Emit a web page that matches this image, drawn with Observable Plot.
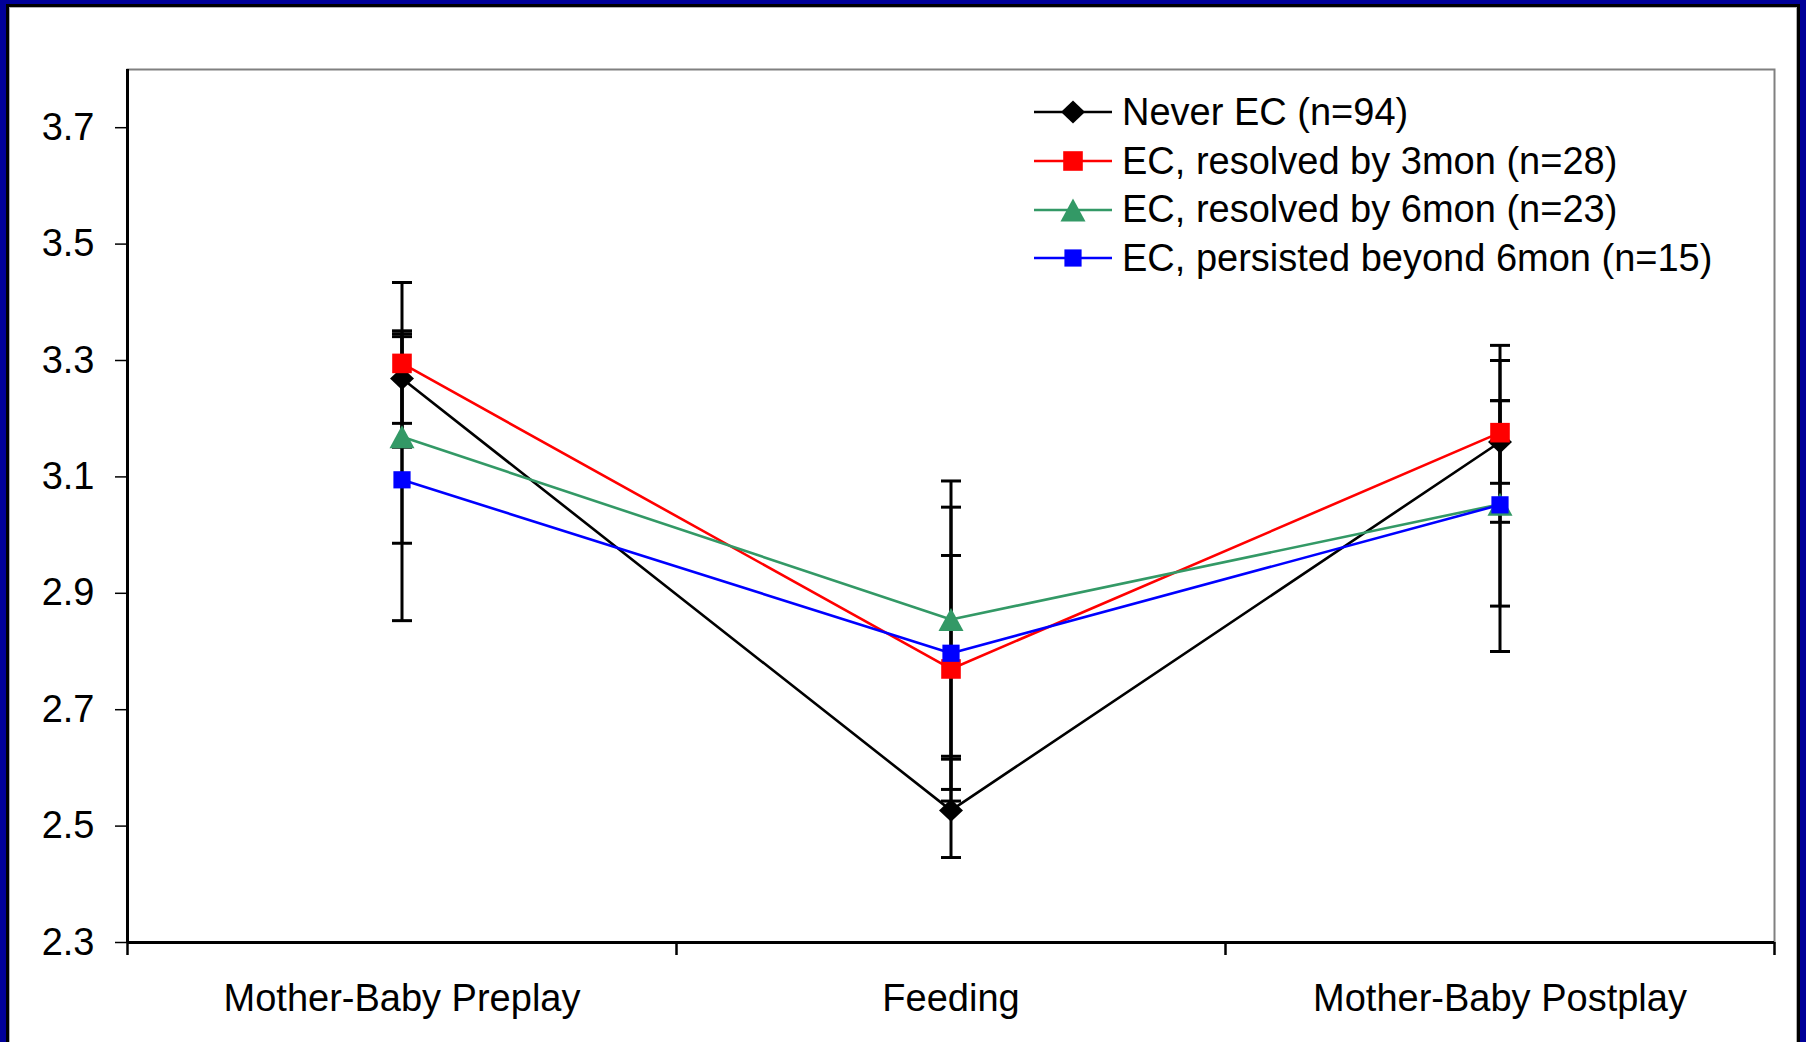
<!DOCTYPE html>
<html>
<head>
<meta charset="utf-8">
<script src="https://cdn.jsdelivr.net/npm/d3@7"></script>
<script src="https://cdn.jsdelivr.net/npm/@observablehq/plot@0.6"></script>
<style>
  html, body { margin: 0; padding: 0; background: #000099; }
  #wrap { position: relative; width: 1806px; height: 1042px; background: #000099; overflow: hidden; font-family: "Liberation Sans", Arial, sans-serif; }
  #inner { position: absolute; left: 6px; top: 4px; width: 1788px; height: 1100px; background: #fff; border: 3px solid #000; box-shadow: inset 0 0 0 1px #b0b0b0; }
  #chart { position: absolute; left: 0; top: 0; }
  #legend { position: absolute; left: 1034px; top: 88px; }
  .row { display: flex; align-items: center; height: 48.7px; font-size: 38px; color: #000; white-space: nowrap; }
  .row svg { margin-right: 10px; }
</style>
</head>
<body>
<div id="wrap">
  <div id="inner"></div>
  <div id="chart"></div>
  <div id="legend"></div>
</div>
<script>
// ---------- data ----------
const categories = ["Mother-Baby Preplay", "Feeding", "Mother-Baby Postplay"];
const seriesNames = ["Never EC (n=94)", "EC, resolved by 3mon (n=28)", "EC, resolved by 6mon (n=23)", "EC, persisted beyond 6mon (n=15)"];
const seriesColors = ["#000000", "#FF0000", "#339966", "#0000FF"];
const yTicks = [2.3, 2.5, 2.7, 2.9, 3.1, 3.3, 3.5, 3.7];

const neverMean = [3.269, 2.527, 3.160];
const neverLow  = [3.192, 2.446, 3.089];
const neverHigh = [3.346, 2.615, 3.231];

const res3Mean = [3.295, 2.770, 3.176];
const res3Low  = [3.151, 2.563, 3.022];
const res3High = [3.434, 2.965, 3.326];

const res6Mean = [3.169, 2.855, 3.053];
const res6Low  = [2.986, 2.620, 2.800];
const res6High = [3.351, 3.093, 3.300];

const persistMean = [3.095, 2.797, 3.052];
const persistLow  = [2.853, 2.543, 2.878];
const persistHigh = [3.341, 3.048, 3.231];

const means = [neverMean, res3Mean, res6Mean, persistMean];
const lows = [neverLow, res3Low, res6Low, persistLow];
const highs = [neverHigh, res3High, res6High, persistHigh];

// ---------- table ----------
const rows = [];
seriesNames.forEach((s, si) => {
  categories.forEach((c, ci) => {
    rows.push({series: s, si, cat: c, xi: ci + 0.5, mean: means[si][ci], lo: lows[si][ci], hi: highs[si][ci]});
  });
});

// ---------- symbols ----------
const rad = (size) => Math.sqrt(size / Math.PI);
const diamondSym = {draw(ctx, size) { const r = rad(size); ctx.moveTo(0, -r * 0.95); ctx.lineTo(r, 0); ctx.lineTo(0, r * 0.95); ctx.lineTo(-r, 0); ctx.closePath(); }};
const squareSym = {draw(ctx, size) { const r = rad(size); ctx.moveTo(-r, -r); ctx.lineTo(r, -r); ctx.lineTo(r, r); ctx.lineTo(-r, r); ctx.closePath(); }};
const triangleSym = {draw(ctx, size) { const r = rad(size); const h = r * 0.92; ctx.moveTo(0, -h); ctx.lineTo(r, h); ctx.lineTo(-r, h); ctx.closePath(); }};
const capSym = {draw(ctx, size) { const r = rad(size); ctx.moveTo(-r, 0); ctx.lineTo(r, 0); }};
const seriesSymbols = [diamondSym, squareSym, triangleSym, squareSym];
const seriesR = [12, 9.8, 12.5, 8.6];

// ---------- chart ----------
const marks = [
  Plot.frame({stroke: "#808080", strokeWidth: 2}),
  Plot.ruleY([2.3], {stroke: "#000", strokeWidth: 3}),
  Plot.ruleX([0], {stroke: "#000", strokeWidth: 3}),
  Plot.axisY({ticks: yTicks, tickSize: 12, tickPadding: 21, tickFormat: d3.format(".1f"), label: null, fontSize: 38, strokeWidth: 1.5}),
  Plot.axisX({ticks: [0, 1, 2, 3], tickSize: 13, tickFormat: () => "", label: null, strokeWidth: 2.5}),
  Plot.axisX({ticks: categories.map((c, i) => i + 0.5), tickSize: 0, tickPadding: 42, tickFormat: d => categories[Math.round(d - 0.5)], label: null, fontSize: 38}),
  Plot.ruleX(rows, {x: "xi", y1: "lo", y2: "hi", stroke: "#000", strokeWidth: 3}),
  Plot.dot(rows, {x: "xi", y: "lo", symbol: capSym, r: 10, fill: "none", stroke: "#000", strokeWidth: 3}),
  Plot.dot(rows, {x: "xi", y: "hi", symbol: capSym, r: 10, fill: "none", stroke: "#000", strokeWidth: 3})
];
seriesNames.forEach((s, si) => {
  const d = rows.filter(r => r.si === si);
  marks.push(Plot.line(d, {x: "xi", y: "mean", stroke: seriesColors[si], strokeWidth: 2.6}));
});
seriesNames.forEach((s, si) => {
  const d = rows.filter(r => r.si === si);
  marks.push(Plot.dot(d, {x: "xi", y: "mean", symbol: seriesSymbols[si], r: seriesR[si], fill: seriesColors[si], stroke: "none"}));
});

const chart = Plot.plot({
  width: 1806,
  height: 1042,
  marginLeft: 127,
  marginRight: 32,
  marginTop: 69,
  marginBottom: 100,
  x: {type: "linear", domain: [0, 3], axis: null},
  y: {type: "linear", domain: [2.3, 3.8], axis: null},
  style: {fontFamily: "'Liberation Sans', Arial, sans-serif", fontSize: "38px", background: "transparent", color: "#000", overflow: "visible"},
  marks
});
document.getElementById("chart").appendChild(chart);

// ---------- legend ----------
const legend = document.getElementById("legend");
seriesNames.forEach((s, si) => {
  const row = document.createElement("div");
  row.className = "row";
  const sym = d3.symbol(seriesSymbols[si], seriesR[si] * seriesR[si] * Math.PI)();
  row.innerHTML = `<svg width="78" height="28" viewBox="0 0 78 28"><line x1="0" x2="78" y1="14" y2="14" stroke="${seriesColors[si]}" stroke-width="2.6"/><path transform="translate(39,14)" d="${sym}" fill="${seriesColors[si]}"/></svg><span>${s}</span>`;
  legend.appendChild(row);
});
</script>
</body>
</html>
